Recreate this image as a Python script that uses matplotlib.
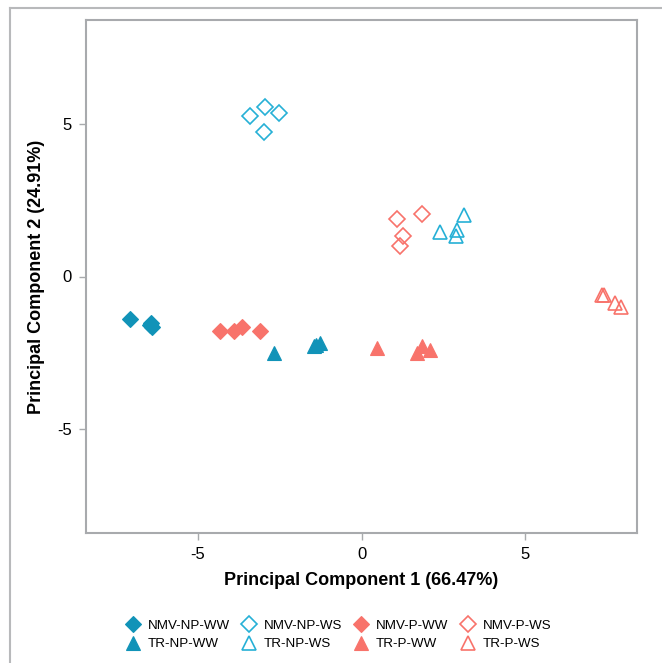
import matplotlib
matplotlib.use("Agg")
import matplotlib.pyplot as plt
from matplotlib.lines import Line2D

plt.rcParams['font.family'] = ['Liberation Sans', 'DejaVu Sans']
plt.rcParams['axes.unicode_minus'] = False

# PCA scores per group
nmv_np_ww_x = [-7.07, -6.41, -6.39, -6.45]
nmv_np_ww_y = [-1.39, -1.51, -1.66, -1.60]
nmv_np_ws_x = [-3.39, -2.93, -2.51, -2.96]
nmv_np_ws_y = [5.24, 5.54, 5.34, 4.74]
nmv_p_ww_x = [-4.30, -3.90, -3.64, -3.09]
nmv_p_ww_y = [-1.78, -1.78, -1.66, -1.78]
nmv_p_ws_x = [1.08, 1.84, 1.27, 1.18]
nmv_p_ws_y = [1.89, 2.05, 1.32, 1.01]
tr_np_ww_x = [-2.66, -1.44, -1.26, -1.40]
tr_np_ww_y = [-2.49, -2.27, -2.19, -2.25]
tr_np_ws_x = [3.14, 2.39, 2.91, 2.89]
tr_np_ws_y = [2.00, 1.45, 1.51, 1.32]
tr_p_ww_x = [0.47, 1.84, 1.69, 2.08]
tr_p_ww_y = [-2.34, -2.27, -2.52, -2.41]
tr_p_ws_x = [7.33, 7.39, 7.72, 7.91]
tr_p_ws_y = [-0.60, -0.62, -0.88, -1.01]

blue = '#1193b8'
blue_open = '#26b0d6'
red = '#f8736b'

groups = [
    ('NMV-NP-WW', nmv_np_ww_x, nmv_np_ww_y, 'D', blue, True),
    ('NMV-NP-WS', nmv_np_ws_x, nmv_np_ws_y, 'D', blue_open, False),
    ('NMV-P-WW', nmv_p_ww_x, nmv_p_ww_y, 'D', red, True),
    ('NMV-P-WS', nmv_p_ws_x, nmv_p_ws_y, 'D', red, False),
    ('TR-NP-WW', tr_np_ww_x, tr_np_ww_y, '^', blue, True),
    ('TR-NP-WS', tr_np_ws_x, tr_np_ws_y, '^', blue_open, False),
    ('TR-P-WW', tr_p_ww_x, tr_p_ww_y, '^', red, True),
    ('TR-P-WS', tr_p_ws_x, tr_p_ws_y, '^', red, False),
]

fig = plt.figure(figsize=(6.62, 6.63), dpi=100)
ax = fig.add_axes([86/662, 1-533/663, (637-86)/662, (533-20)/663])

handles = []
for name, xs, ys, mk, col, filled in groups:
    ms = 8.4 if mk == 'D' else 9.8
    if filled:
        style = dict(color=col, markeredgecolor=col, markeredgewidth=0.8)
    else:
        style = dict(markerfacecolor='none', markeredgecolor=col, markeredgewidth=1.2)
    ax.plot(xs, ys, linestyle='none', marker=mk, ms=ms, **style)
    handles.append((name, Line2D([], [], linestyle='none', marker=mk, ms=ms, **style)))

ax.set_xlim(-8.4, 8.4)
ax.set_ylim(-8.4, 8.4)
ax.set_xticks([-5, 0, 5])
ax.set_yticks([-5, 0, 5])
for s in ax.spines.values():
    s.set_color('#a8aaad')
    s.set_linewidth(1.5)
ax.tick_params(direction='out', length=5, width=1, color='#a8aaad',
               labelsize=12, pad=5)
ax.set_xlabel('Principal Component 1 (66.47%)', fontsize=13, fontweight='bold',
              labelpad=7)
ax.set_ylabel('Principal Component 2 (24.91%)', fontsize=13, fontweight='bold',
              labelpad=9)

# legend: two rows of four, ordered row-wise
order = [0, 4, 1, 5, 2, 6, 3, 7]
leg = fig.legend([handles[i][1] for i in order], [handles[i][0] for i in order],
                 ncol=4, loc='center', bbox_to_anchor=(338/662, 1-635/663),
                 frameon=False, fontsize=9.6, handletextpad=0.5, columnspacing=0.85,
                 labelspacing=0.45, handlelength=1.2)

# outer frame lines
fig.add_artist(Line2D([10/662, 10/662], [0, 1-8/663], color='#b8b9bb', lw=1.5,
                      transform=fig.transFigure))
fig.add_artist(Line2D([10/662, 1], [1-8/663, 1-8/663], color='#b8b9bb', lw=1.5,
                      transform=fig.transFigure))

fig.savefig('out.png', dpi=100)
